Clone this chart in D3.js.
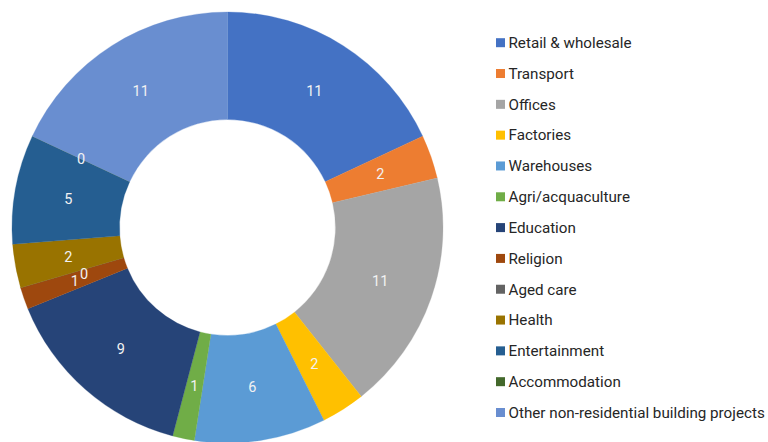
<!DOCTYPE html>
<html><head><meta charset="utf-8">
<script src="https://cdn.jsdelivr.net/npm/d3@7"></script>
<style>html,body{margin:0;padding:0;background:#fff;overflow:hidden}</style>
</head><body>
<svg id="chart" width="768" height="442"></svg>
<script>
const categories = ["Retail & wholesale","Transport","Offices","Factories","Warehouses","Agri/acquaculture","Education","Religion","Aged care","Health","Entertainment","Accommodation","Other non-residential building projects"];
const values = [11,2,11,2,6,1,9,1,0,2,5,0,11];
const colors = ["#4472C4","#ED7D31","#A5A5A5","#FFC000","#5B9BD5","#70AD47","#264478","#9E480E","#636363","#997300","#255E91","#43682B","#698ED0"];

const svg = d3.select("#chart");
const cx = 227.5, cy = 227.5, rOuter = 215.5, rInner = 108;
const data = categories.map((c,i)=>({name:c, value:values[i], color:colors[i]}));
const pie = d3.pie().value(d=>d.value).sort(null);
const arc = d3.arc().innerRadius(rInner).outerRadius(rOuter);
const arcs = pie(data);
const g = svg.append("g").attr("transform",`translate(${cx},${cy})`);
g.selectAll("path").data(arcs).enter().append("path")
  .attr("d",arc).attr("fill",d=>d.data.color).attr("stroke",d=>d.data.color).attr("stroke-width",0.3);
// label nudges (Excel collision avoidance) in px
const nudge = {"Aged care":[12,1]};
g.selectAll("text").data(arcs).enter().append("text")
  .attr("transform",d=>{const c=arc.centroid(d);const n=nudge[d.data.name]||[0,0];return `translate(${c[0]+n[0]},${c[1]+n[1]})`;})
  .attr("text-anchor","middle").attr("dy","0.35em")
  .attr("font-family","Roboto, sans-serif").attr("font-size",14.5)
  .attr("fill","#f2f2f2").text(d=>d.data.value);

const legend = svg.append("g");
const ly = d3.scalePoint().domain(categories).range([42.7,412.5]);
const items = legend.selectAll("g").data(data).enter().append("g")
  .attr("transform",d=>`translate(496,${ly(d.name)})`);
items.append("rect").attr("x",0).attr("y",-4.5).attr("width",9).attr("height",9).attr("fill",d=>d.color);
items.append("text").attr("x",12.5).attr("dy","0.35em")
  .attr("font-family","Roboto, sans-serif").attr("font-size",15.2)
  .attr("fill","#262626").text(d=>d.name);
</script>
</body></html>
